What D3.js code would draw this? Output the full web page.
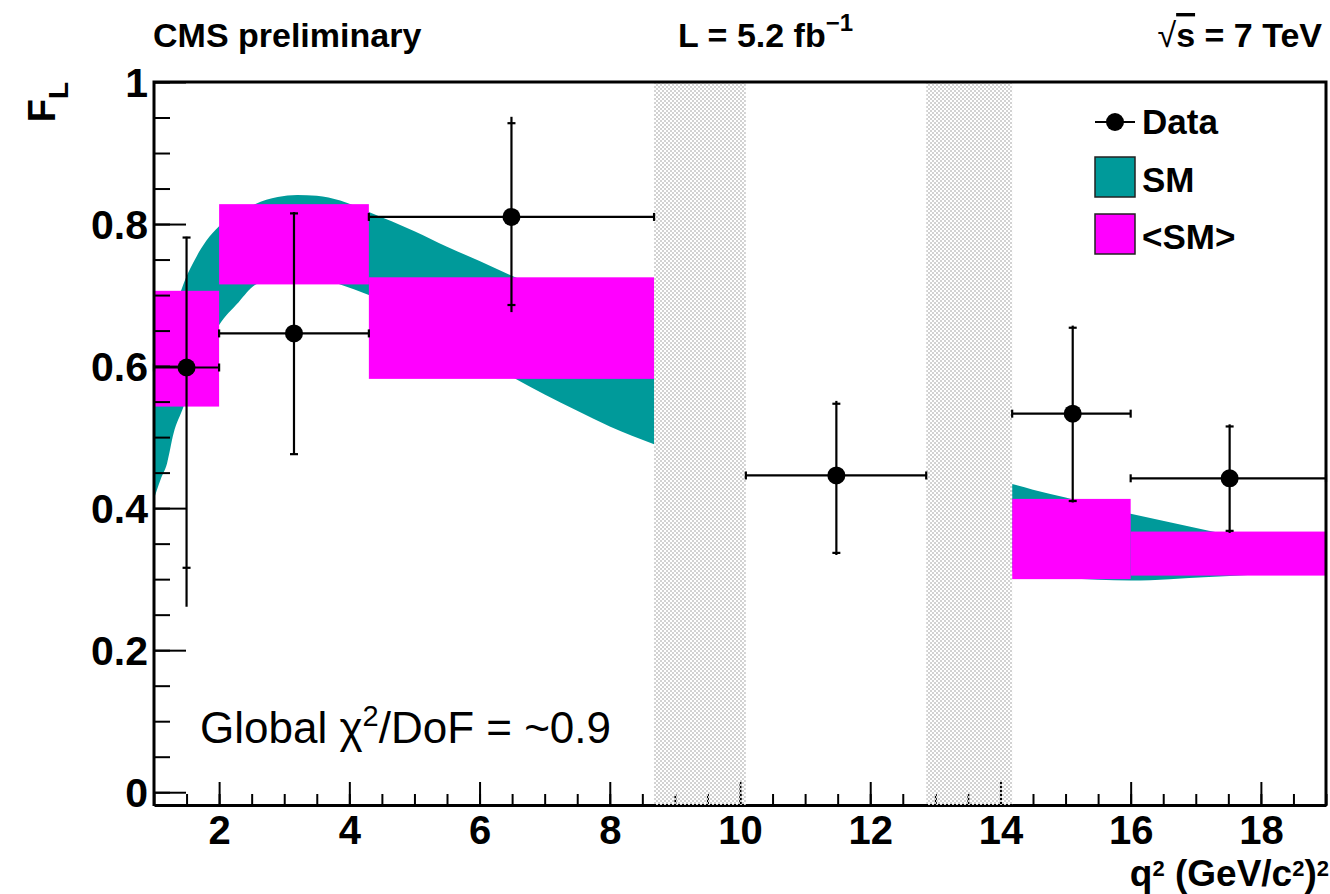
<!DOCTYPE html>
<html>
<head>
<meta charset="utf-8">
<script src="https://cdn.jsdelivr.net/npm/d3@7"></script>
<style>
  body { margin: 0; background: #fff; }
  svg text { font-family: "Liberation Sans", Arial, Helvetica, sans-serif; }
</style>
</head>
<body>
<svg id="chart" width="1330" height="894"></svg>
<script>
// measured F_L per q^2 bin
const q2Lo   = [1, 2, 4.3, 10.09, 14.18, 16];
const q2Hi   = [2, 4.3, 8.68, 12.86, 16, 19];
const q2Mid  = [1.5, 3.15, 6.49, 11.48, 15.11, 17.52];
const flVal  = [0.598, 0.646, 0.810, 0.446, 0.533, 0.442];
const flStatUp = [0.781, 0.815, 0.942, 0.547, 0.654, 0.515];
const flStatDn = [0.316, 0.476, 0.686, 0.337, 0.410, 0.368];
const flTotUp  = [0.782, 0.817, 0.951, 0.551, 0.657, 0.518];
const flTotDn  = [0.261, 0.475, 0.676, 0.334, 0.408, 0.365];

// SM prediction band (two q^2 segments)
const smQa    = [1.0, 1.1, 1.2, 1.3, 1.45, 1.6, 1.8, 2.0, 2.3, 2.55, 2.9, 3.2, 3.5, 3.86, 4.3, 5.0, 5.5, 6.0, 6.55, 7.0, 7.5, 8.0, 8.68];
const smUpA   = [0.56, 0.60, 0.635, 0.672, 0.715, 0.745, 0.776, 0.797, 0.815, 0.828, 0.838, 0.841, 0.840, 0.833, 0.817, 0.790, 0.768, 0.748, 0.725, 0.707, 0.687, 0.665, 0.640];
const smLowA  = [0.413, 0.44, 0.463, 0.505, 0.542, 0.585, 0.625, 0.658, 0.690, 0.714, 0.724, 0.728, 0.725, 0.715, 0.700, 0.665, 0.638, 0.610, 0.582, 0.560, 0.537, 0.515, 0.490];
const smQb    = [14.18, 14.5, 15.0, 15.5, 16.0, 16.6, 17.2, 18.0, 19.0];
const smUpB   = [0.434, 0.426, 0.415, 0.403, 0.392, 0.380, 0.368, 0.356, 0.345];
const smLowB  = [0.312, 0.307, 0.302, 0.299, 0.298, 0.300, 0.303, 0.307, 0.312];

// bin-averaged SM <SM>
const avgLo  = [1, 2, 4.3, 14.18, 16];
const avgHi  = [2, 4.3, 8.68, 16, 19];
const avgTop = [0.706, 0.828, 0.725, 0.413, 0.367];
const avgBot = [0.543, 0.715, 0.582, 0.300, 0.305];

// charmonium veto regions
const vetoLo = [8.68, 12.86];
const vetoHi = [10.09, 14.18];

const teal = '#009a9a';
const pink = '#ff00ff';

let svg = d3.select('#chart');

let x = d3.scaleLinear().domain([1, 19]).range([154, 1326]);
let y = d3.scaleLinear().domain([-0.018, 1]).range([805, 82]);

// hatch pattern for the veto bands
let pat = svg.append('defs').append('pattern')
    .attr('id', 'veto')
    .attr('width', 4).attr('height', 4)
    .attr('patternUnits', 'userSpaceOnUse');
pat.append('rect').attr('width', 2).attr('height', 2).attr('fill', '#d2d2d2')
    .attr('shape-rendering', 'crispEdges');
pat.append('rect').attr('x', 2).attr('y', 2).attr('width', 2).attr('height', 2).attr('fill', '#d2d2d2')
    .attr('shape-rendering', 'crispEdges');

// SM band
let area = d3.area()
    .x(function(d){ return x(d.q); })
    .y0(function(d){ return y(d.lo); })
    .y1(function(d){ return y(d.hi); })
    .curve(d3.curveMonotoneX);

[[smQa, smLowA, smUpA], [smQb, smLowB, smUpB]].forEach(function(seg) {
    let pts = seg[0].map(function(q, i){ return {q: q, lo: seg[1][i], hi: seg[2][i]}; });
    svg.append('path')
        .datum(pts)
        .attr('d', area)
        .attr('fill', teal);
});

// <SM> boxes
svg.append('g').selectAll('rect')
    .data(avgLo)
    .enter().append('rect')
        .attr('x', function(d){ return x(d); })
        .attr('width', function(d, i){ return x(avgHi[i]) - x(d); })
        .attr('y', function(d, i){ return y(avgTop[i]); })
        .attr('height', function(d, i){ return y(avgBot[i]) - y(avgTop[i]); })
        .attr('fill', pink);

// bottom axis (drawn under the veto bands)
let xMinor = svg.append('g')
    .attr('transform', 'translate(0,805)')
    .call(d3.axisBottom(x).ticks(36).tickSize(-11).tickSizeOuter(0).tickFormat(''));
xMinor.select('.domain').remove();

let xAxis = svg.append('g')
    .attr('transform', 'translate(0,805)')
    .call(d3.axisBottom(x).ticks(9).tickSize(-23).tickSizeOuter(0).tickPadding(8)
        .tickFormat(d3.format('~g')));
xAxis.select('.domain').attr('stroke-width', 3);
xAxis.selectAll('text')
    .attr('font-size', 40).attr('font-weight', 'bold').attr('fill', '#000')
    .attr('dy', '0.78em');

let yMinor = svg.append('g')
    .attr('transform', 'translate(154,0)')
    .call(d3.axisLeft(y).ticks(20).tickSize(-16).tickSizeOuter(0).tickFormat(''));
yMinor.select('.domain').remove();

let yAxis = svg.append('g')
    .attr('transform', 'translate(154,0)')
    .call(d3.axisLeft(y).ticks(5).tickSize(-32).tickSizeOuter(0).tickPadding(6)
        .tickFormat(d3.format('~g')));
yAxis.select('.domain').remove();
yAxis.selectAll('text')
    .attr('font-size', 41).attr('font-weight', 'bold').attr('fill', '#000')
    .attr('dy', '0.36em');

svg.selectAll('.tick line').attr('stroke-width', 2).attr('stroke', '#000');

// veto bands
svg.append('g').selectAll('rect')
    .data(vetoLo)
    .enter().append('rect')
        .attr('x', function(d){ return x(d); })
        .attr('width', function(d, i){ return x(vetoHi[i]) - x(d); })
        .attr('y', y.range()[1])
        .attr('height', y.range()[0] - y.range()[1])
        .attr('fill', 'url(#veto)');

// frame: left, top, right
svg.append('path')
    .attr('d', 'M154,806V82H1326V806')
    .attr('fill', 'none')
    .attr('stroke', '#000')
    .attr('stroke-width', 3);

// data points with errors
let pts = svg.append('g')
    .attr('stroke', '#000')
    .attr('stroke-width', 2.2);

q2Mid.forEach(function(q, i) {
    let cx = x(q), cy = y(flVal[i]);
    pts.append('line')
        .attr('x1', cx).attr('x2', cx)
        .attr('y1', y(flTotUp[i])).attr('y2', y(flTotDn[i]));
    pts.append('line')
        .attr('x1', x(q2Lo[i])).attr('x2', x(q2Hi[i]))
        .attr('y1', cy).attr('y2', cy);
    [q2Lo[i], q2Hi[i]].forEach(function(e) {
        pts.append('line')
            .attr('x1', x(e)).attr('x2', x(e))
            .attr('y1', cy - 4).attr('y2', cy + 4);
    });
    [flStatUp[i], flStatDn[i]].forEach(function(e) {
        pts.append('line')
            .attr('x1', cx - 4).attr('x2', cx + 4)
            .attr('y1', y(e)).attr('y2', y(e));
    });
    pts.append('circle')
        .attr('cx', cx).attr('cy', cy).attr('r', 9)
        .attr('fill', '#000').attr('stroke', 'none');
});

// legend
let leg = svg.append('g');
leg.append('line')
    .attr('x1', 1095).attr('x2', 1135).attr('y1', 122).attr('y2', 122)
    .attr('stroke', '#000').attr('stroke-width', 2.2);
leg.append('circle').attr('cx', 1115).attr('cy', 122).attr('r', 9).attr('fill', '#000');
leg.append('rect').attr('x', 1095).attr('y', 157).attr('width', 40).attr('height', 40)
    .attr('fill', teal).attr('stroke', '#222').attr('stroke-width', 1.5);
leg.append('rect').attr('x', 1095).attr('y', 214).attr('width', 40).attr('height', 40)
    .attr('fill', pink).attr('stroke', '#222').attr('stroke-width', 1.5);
[['Data', 134], ['SM', 192], ['<SM>', 249]].forEach(function(t) {
    leg.append('text')
        .attr('x', 1142).attr('y', t[1])
        .attr('font-size', 35).attr('font-weight', 'bold')
        .text(t[0]);
});

// header texts
let hdr = svg.append('g').attr('font-weight', 'bold').attr('font-size', 34);
hdr.append('text').attr('x', 153).attr('y', 47).text('CMS preliminary');
let lumi = hdr.append('text').attr('x', 678).attr('y', 47);
lumi.append('tspan').text('L = 5.2 fb');
lumi.append('tspan').attr('dy', -16).attr('font-size', 24).text('\u22121');
let rs = hdr.append('text').attr('x', 1322).attr('y', 47).attr('text-anchor', 'end');
rs.append('tspan').attr('font-weight', 'normal').text('\u221A');
rs.append('tspan').attr('text-decoration', 'overline').text('s');
rs.append('tspan').text(' = 7 TeV');

// axis titles
let yt = svg.append('text')
    .attr('transform', 'translate(55,82) rotate(-90)')
    .attr('text-anchor', 'end')
    .attr('font-weight', 'bold')
    .attr('font-size', 38);
yt.append('tspan').text('F');
yt.append('tspan').attr('dy', 13).attr('font-size', 28).text('L');

let xt = svg.append('text')
    .attr('x', 1329).attr('y', 886)
    .attr('text-anchor', 'end')
    .attr('font-weight', 'bold')
    .attr('font-size', 37);
xt.append('tspan').text('q');
xt.append('tspan').attr('dy', -10).attr('font-size', 22).text('2');
xt.append('tspan').attr('dy', 10).text(' (GeV/c');
xt.append('tspan').attr('dy', -10).attr('font-size', 22).text('2');
xt.append('tspan').attr('dy', 10).text(')');
xt.append('tspan').attr('dy', -10).attr('font-size', 22).text('2');

// fit quality note
let gl = svg.append('text')
    .attr('x', 200).attr('y', 743)
    .attr('font-family', 'Lato, "Open Sans", sans-serif')
    .attr('font-size', 44);
gl.append('tspan').text('Global \u03C7');
gl.append('tspan').attr('dy', -17).attr('font-size', 29).text('2');
gl.append('tspan').attr('dy', 17).text('/DoF = ~0.9');
</script>
</body>
</html>
